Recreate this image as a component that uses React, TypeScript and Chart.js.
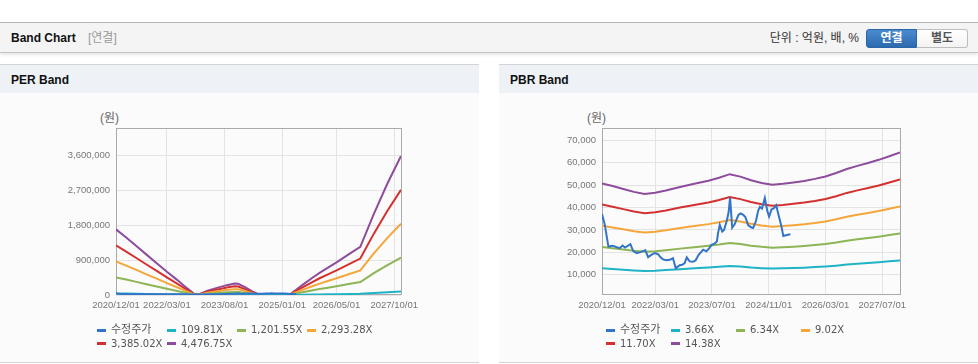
import React, { useEffect, useRef } from "react";
import Chart from "chart.js/auto";

// ---------- data ----------
const MONTH_MIN = 0; // 2020/12
const MONTH_MAX = 84; // 2027/12

const PER_TICK_X = [0, 15, 32, 49, 65, 82];
const PER_TICK_LABELS = ["2020/12/01", "2022/03/01", "2023/08/01", "2025/01/01", "2026/05/01", "2027/10/01"];
const PBR_TICK_X = [0, 15, 31, 47, 63, 79];
const PBR_TICK_LABELS = ["2020/12/01", "2022/03/01", "2023/07/01", "2024/11/01", "2026/03/01", "2027/07/01"];
const PER_Y_TICKS = [0, 900000, 1800000, 2700000, 3600000];
const PBR_Y_TICKS = [10000, 20000, 30000, 40000, 50000, 60000, 70000];

const PER_LABELS = ["수정주가", "109.81X", "1,201.55X", "2,293.28X", "3,385.02X", "4,476.75X"];
const PBR_LABELS = ["수정주가", "3.66X", "6.34X", "9.02X", "11.70X", "14.38X"];
const SERIES_COLORS = ["#3274c8", "#1fb3c6", "#8db455", "#f4a63b", "#d3302f", "#8e4c9d"];

// 수정주가 (month offset from 2020/12, price in 원)
const PRICE_X = [0, 0.8, 1.8, 3, 4, 5, 5.8, 6.5, 8, 8.8, 9.8, 10.6, 11.5, 12.2, 13, 14, 14.9, 15.8, 16.5, 17.2, 18.2, 19.1, 20, 20.8, 21.9, 22.6, 23.3, 23.9, 24.7, 25.7, 26.4, 27.2, 28.5, 29.4, 30.2, 30.8, 31.8, 32.4, 32.7, 33.2, 33.9, 34.4, 35.2, 35.7, 36.1, 36.7, 37.4, 37.9, 38.5, 39.1, 39.8, 40.4, 41.2, 42, 42.6, 43.4, 44, 44.5, 45.1, 45.9, 46.6, 47.1, 47.8, 48.4, 49.1, 49.8, 50.6, 51.1, 52.1, 53.1];
const PRICE = [37100, 32300, 22600, 23000, 22400, 21900, 23100, 22200, 23700, 20600, 19700, 20000, 20600, 21000, 17900, 19000, 19700, 19200, 17800, 16900, 16500, 16700, 17400, 12900, 14300, 14500, 15200, 17800, 16000, 15800, 16500, 18800, 21200, 20500, 21800, 23300, 24000, 25000, 28500, 32300, 29300, 30000, 34200, 38000, 44500, 31000, 32500, 34600, 36800, 37400, 36800, 35800, 32200, 31200, 30900, 34000, 38500, 40300, 39600, 44300, 38500, 36000, 39200, 39600, 41000, 36500, 31500, 27300, 27800, 28100];

// PER band
const PER_X = [0, 3, 6, 9, 12, 15, 18, 21, 23, 24, 27, 30, 33, 35, 36, 38, 40, 42, 43, 51, 53, 55, 58, 60, 62, 65, 69, 72, 76, 80, 84];
const PER_109 = [41000, 36000, 31000, 26000, 20000, 15000, 10000, 4000, 1000, 0, 3000, 5000, 6000, 7000, 7000, 5000, 2000, 0, 0, 0, 3000, 6000, 11000, 14000, 17000, 21000, 26000, 30000, 51000, 70000, 88000];
const PER_1201 = [454000, 397000, 338000, 279000, 220000, 161000, 105000, 46000, 8000, 1000, 30000, 51000, 70000, 79000, 78000, 54000, 27000, 4000, 0, 0, 35000, 70000, 121000, 153000, 183000, 225000, 287000, 333000, 561000, 770000, 961000];
const PER_2293 = [866000, 758000, 646000, 533000, 420000, 307000, 200000, 87000, 15000, 3000, 56000, 97000, 133000, 151000, 149000, 102000, 51000, 8000, 0, 0, 67000, 133000, 231000, 292000, 348000, 430000, 548000, 635000, 1071000, 1470000, 1834000];
const PER_3385 = [1278000, 1119000, 953000, 786000, 620000, 454000, 295000, 129000, 23000, 4000, 83000, 144000, 197000, 223000, 219000, 151000, 76000, 11000, 0, 0, 98000, 197000, 340000, 431000, 514000, 635000, 809000, 938000, 1580000, 2170000, 2707000];
const PER_4476 = [1690000, 1480000, 1260000, 1040000, 820000, 600000, 390000, 170000, 30000, 5000, 110000, 190000, 260000, 295000, 290000, 200000, 100000, 15000, 0, 0, 130000, 260000, 450000, 570000, 680000, 840000, 1070000, 1240000, 2090000, 2870000, 3580000];

// PBR band
const PBR_X = [0, 3, 6, 9, 12, 15, 18, 22, 26, 30, 33, 36, 39, 42, 45, 48, 51, 54, 57, 60, 63, 66, 69, 72, 75, 78, 81, 84];
const PBR_366 = [12930, 12620, 12290, 11960, 11730, 11860, 12110, 12520, 12880, 13230, 13560, 13970, 13690, 13280, 12980, 12780, 12880, 13030, 13210, 13440, 13720, 14100, 14560, 14910, 15240, 15600, 16010, 16440];
const PBR_634 = [22400, 21870, 21300, 20720, 20330, 20550, 20990, 21690, 22310, 22930, 23500, 24210, 23720, 23010, 22490, 22130, 22310, 22570, 22880, 23280, 23770, 24430, 25220, 25840, 26410, 27030, 27730, 28480];
const PBR_902 = [31870, 31110, 30300, 29480, 28920, 29230, 29860, 30860, 31740, 32620, 33440, 34440, 33750, 32750, 31990, 31490, 31740, 32120, 32560, 33120, 33810, 34750, 35880, 36760, 37580, 38450, 39460, 40520];
const PBR_1170 = [41330, 40350, 39300, 38240, 37510, 37910, 38730, 40030, 41170, 42310, 43370, 44670, 43770, 42470, 41490, 40840, 41170, 41660, 42230, 42960, 43850, 45070, 46540, 47680, 48730, 49870, 51170, 52560];
const PBR_1438 = [50800, 49600, 48300, 47000, 46100, 46600, 47600, 49200, 50600, 52000, 53300, 54900, 53800, 52200, 51000, 50200, 50600, 51200, 51900, 52800, 53900, 55400, 57200, 58600, 59900, 61300, 62900, 64600];

const PER_Y_MIN = 0;
const PER_Y_MAX = 4300000;
const PBR_Y_MIN = 1000;
const PBR_Y_MAX = 75500;

// ---------- helpers ----------
const FONT_LATIN = '"Liberation Sans", Arial, "Noto Sans CJK KR", sans-serif';
const FONT_LEGEND = '"DejaVu Sans", "Noto Sans CJK KR", sans-serif';

function pts(xs: number[], ys: number[]) {
  return xs.map((x, i) => ({ x, y: ys[i] }));
}

const framePlugin = {
  id: "frame",
  beforeDatasetsDraw(chart: any) {
    const { ctx, chartArea: a } = chart;
    ctx.save();
    ctx.strokeStyle = "#aaaaaa";
    ctx.lineWidth = 1;
    ctx.strokeRect(Math.round(a.left) + 0.5, Math.round(a.top) + 0.5, Math.round(a.right - a.left), Math.round(a.bottom - a.top) - 1);
    ctx.restore();
  },
};

type BandProps = {
  left: number;
  labels: string[];
  series: { xs: number[]; ys: number[] }[];
  tickX: number[];
  tickLabels: string[];
  yTicks: number[];
  yMin: number;
  yMax: number;
  yAxisWidth: number;
  padRight: number;
};

const CANVAS_W = 479;
const CANVAS_H = 228;
const CANVAS_TOP = 96;
const PAD_TOP = 32;
const X_AXIS_H = 29;

function BandChart(p: BandProps) {
  const ref = useRef<HTMLCanvasElement | null>(null);
  useEffect(() => {
    if (!ref.current) return;
    const chart = new Chart(ref.current, {
      type: "line",
      data: {
        datasets: p.series.map((s, i) => ({
          label: p.labels[i],
          data: pts(s.xs, s.ys),
          borderColor: SERIES_COLORS[i],
          backgroundColor: SERIES_COLORS[i],
          borderWidth: 2,
          pointRadius: 0,
          tension: 0,
          fill: false,
        })),
      },
      options: {
        animation: false,
        responsive: false,
        maintainAspectRatio: false,
        devicePixelRatio: 1,
        events: [],
        layout: { padding: { left: 0, top: PAD_TOP, right: p.padRight, bottom: 0 } },
        plugins: { legend: { display: false }, tooltip: { enabled: false }, title: { display: false } },
        scales: {
          x: {
            type: "linear",
            min: MONTH_MIN,
            max: MONTH_MAX,
            afterBuildTicks: (s: any) => {
              s.ticks = p.tickX.map((v) => ({ value: v }));
            },
            afterFit: (s: any) => {
              s.height = X_AXIS_H;
            },
            ticks: {
              autoSkip: false,
              maxRotation: 0,
              minRotation: 0,
              padding: 5,
              color: "#777777",
              font: { family: FONT_LATIN, size: 9.5 },
              callback: (v: any) => {
                const k = p.tickX.indexOf(Number(v));
                return k >= 0 ? p.tickLabels[k] : "";
              },
            },
            grid: { color: "#e4e4e4", drawTicks: false, lineWidth: 1 },
            border: { display: false },
          },
          y: {
            type: "linear",
            min: p.yMin,
            max: p.yMax,
            afterBuildTicks: (s: any) => {
              s.ticks = p.yTicks.map((v) => ({ value: v }));
            },
            afterFit: (s: any) => {
              s.width = p.yAxisWidth;
            },
            ticks: {
              padding: 6,
              color: "#777777",
              font: { family: FONT_LATIN, size: 9.5 },
              callback: (v: any) => Number(v).toLocaleString("en-US"),
            },
            grid: { color: "#e4e4e4", drawTicks: false, lineWidth: 1 },
            border: { display: false },
          },
        },
      },
      plugins: [framePlugin],
    } as any);
    return () => chart.destroy();
  }, []);
  return (
    <canvas
      ref={ref}
      width={CANVAS_W}
      height={CANVAS_H}
      style={{ position: "absolute", left: p.left, top: CANVAS_TOP, width: CANVAS_W, height: CANVAS_H }}
    />
  );
}

function Legend({ left, colW, labels }: { left: number; colW: number; labels: string[] }) {
  return (
    <>
      {labels.map((lab, i) => {
        const row = Math.floor(i / 4);
        const col = i % 4;
        const korean = /[\uac00-\ud7a3]/.test(lab);
        return (
          <div
            key={i}
            style={{
              position: "absolute",
              left: left + col * colW,
              top: 323 + row * 13.5,
              height: 14,
              lineHeight: "14px",
              display: "flex",
              alignItems: "center",
              whiteSpace: "nowrap",
              fontSize: korean ? 11 : 10,
              color: "#555555",
              fontFamily: FONT_LEGEND,
            }}
          >
            <span style={{ display: "inline-block", width: 9, height: 3, background: SERIES_COLORS[i], marginRight: 5 }} />
            {lab}
          </div>
        );
      })}
    </>
  );
}

function Panel({ left, title }: { left: number; title: string }) {
  return (
    <div
      style={{
        position: "absolute",
        left,
        top: 64,
        width: 479,
        height: 297,
        borderTop: "1px solid #d4d4d4",
        borderBottom: "1px solid #d4d4d4",
        background: "#fbfbfb",
      }}
    >
      <div
        style={{
          height: 28,
          background: "#eef2f7",
          fontWeight: "bold",
          fontSize: 12,
          lineHeight: "30px",
          paddingLeft: 11,
          color: "#111",
          fontFamily: FONT_LATIN,
        }}
      >
        {title}
      </div>
    </div>
  );
}

export default function App() {
  const perSeries = [
    { xs: PRICE_X, ys: PRICE },
    { xs: PER_X, ys: PER_109 },
    { xs: PER_X, ys: PER_1201 },
    { xs: PER_X, ys: PER_2293 },
    { xs: PER_X, ys: PER_3385 },
    { xs: PER_X, ys: PER_4476 },
  ];
  const pbrSeries = [
    { xs: PRICE_X, ys: PRICE },
    { xs: PBR_X, ys: PBR_366 },
    { xs: PBR_X, ys: PBR_634 },
    { xs: PBR_X, ys: PBR_902 },
    { xs: PBR_X, ys: PBR_1170 },
    { xs: PBR_X, ys: PBR_1438 },
  ];
  return (
    <div
      style={{
        position: "absolute",
        left: 0,
        top: 0,
        width: 978,
        height: 364,
        background: "#ffffff",
        overflow: "hidden",
        fontFamily: FONT_LATIN,
      }}
    >
      {/* top header bar */}
      <div
        style={{
          position: "absolute",
          left: 0,
          top: 22,
          width: 978,
          height: 29,
          borderTop: "1px solid #b5b5b5",
          borderBottom: "1px solid #c4c4c4",
          background: "#f4f4f4",
          boxShadow: "0 2px 3px rgba(0,0,0,0.10)",
        }}
      />
      <div style={{ position: "absolute", left: 11, top: 30, lineHeight: "16px", fontSize: 12, fontWeight: "bold", color: "#111" }}>
        Band Chart
      </div>
      <div style={{ position: "absolute", left: 88, top: 30, lineHeight: "16px", fontSize: 12, color: "#999" }}>[연결]</div>
      <div style={{ position: "absolute", right: 119, top: 30, lineHeight: "16px", fontSize: 12, color: "#333", whiteSpace: "nowrap" }}>
        단위 : 억원, 배, %
      </div>
      <div
        style={{
          position: "absolute",
          left: 866,
          top: 29,
          width: 51,
          height: 19,
          boxSizing: "border-box",
          border: "1px solid #2b65a8",
          borderRadius: "3px 0 0 3px",
          background: "linear-gradient(#4a8bd0, #2d6ab0)",
          color: "#fff",
          fontWeight: "bold",
          fontSize: 12,
          lineHeight: "17px",
          textAlign: "center",
        }}
      >
        연결
      </div>
      <div
        style={{
          position: "absolute",
          left: 917,
          top: 29,
          width: 51,
          height: 19,
          boxSizing: "border-box",
          border: "1px solid #bdbdbd",
          borderLeft: "none",
          borderRadius: "0 3px 3px 0",
          background: "linear-gradient(#ffffff, #f3f3f3)",
          color: "#555",
          fontWeight: "bold",
          fontSize: 12,
          lineHeight: "17px",
          textAlign: "center",
        }}
      >
        별도
      </div>

      <Panel left={0} title="PER Band" />
      <Panel left={499} title="PBR Band" />

      <div style={{ position: "absolute", left: 100, top: 111, lineHeight: "14px", fontSize: 12, color: "#666" }}>(원)</div>
      <div style={{ position: "absolute", left: 587, top: 111, lineHeight: "14px", fontSize: 12, color: "#666" }}>(원)</div>

      <BandChart
        left={0}
        labels={PER_LABELS}
        series={perSeries}
        tickX={PER_TICK_X}
        tickLabels={PER_TICK_LABELS}
        yTicks={PER_Y_TICKS}
        yMin={PER_Y_MIN}
        yMax={PER_Y_MAX}
        yAxisWidth={116}
        padRight={78}
      />
      <BandChart
        left={499}
        labels={PBR_LABELS}
        series={pbrSeries}
        tickX={PBR_TICK_X}
        tickLabels={PBR_TICK_LABELS}
        yTicks={PBR_Y_TICKS}
        yMin={PBR_Y_MIN}
        yMax={PBR_Y_MAX}
        yAxisWidth={103}
        padRight={78}
      />

      <Legend left={97} colW={70} labels={PER_LABELS} />
      <Legend left={606} colW={65} labels={PBR_LABELS} />
    </div>
  );
}
